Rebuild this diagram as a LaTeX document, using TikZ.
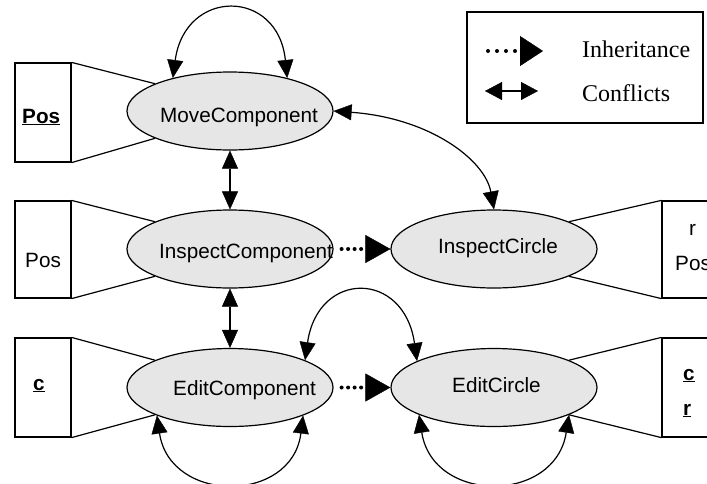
\documentclass[tikz,border=0pt]{standalone}
\usepackage{fontspec}
\setmainfont{Liberation Sans}
\newfontfamily\legfont{Liberation Serif}
\usetikzlibrary{arrows.meta,shapes.geometric}
\definecolor{ellfill}{RGB}{230,230,230}
\tikzset{
  comp/.style={ellipse, draw, fill=ellfill, line width=1.2pt, minimum width=206pt, minimum height=78pt, inner sep=0pt},
  attrbox/.style={rectangle, draw, line width=1.2pt, inner sep=0pt},
  lab/.style={anchor=base west, inner sep=0pt, font=\fontsize{20.7}{24}\selectfont},
  legtext/.style={anchor=base west, inner sep=0pt, font=\legfont\fontsize{24}{28}\selectfont},
  tri/.tip={Triangle[length=18pt,width=16pt,line width=0.4pt]},
  bigtri/.tip={Triangle[length=25pt,width=28pt,line width=0.4pt]},
  conn/.style={line width=1.2pt, tri-tri},
  inh/.style={line width=4pt, line cap=round, dash pattern=on 0pt off 6.5pt, shorten <=8pt, -bigtri},
  link/.style={line width=1.2pt},
}
\begin{document}
\begin{tikzpicture}[x=1pt,y=-1pt]
\useasboundingbox (0,0) rectangle (707,483);
\clip (0,0) rectangle (707,483);
\fill[white] (0,0) rectangle (707,483);

% attribute boxes
\node[attrbox, minimum width=56pt, minimum height=99pt] (b1) at (43,112.5) {};
\node[attrbox, minimum width=56pt, minimum height=97pt] (b2) at (43,249.5) {};
\node[attrbox, minimum width=56pt, minimum height=99pt] (b3) at (43,387.5) {};
\node[attrbox, minimum width=62pt, minimum height=97pt] (b4) at (693,249.5) {};
\node[attrbox, minimum width=62pt, minimum height=99pt] (b5) at (693,387.5) {};

% ellipses
\node[comp] (mc) at (230,111) {};
\node[comp] (ic) at (230,249) {};
\node[comp] (icc) at (494,249) {};
\node[comp] (ec) at (230,387.5) {};
\node[comp] (ecc) at (494,387.5) {};

% links box-ellipse
\draw[link] (b1.north east) -- (mc.160);
\draw[link] (b1.south east) -- (mc.200);
\draw[link] (b2.north east) -- (ic.160);
\draw[link] (b2.south east) -- (ic.200);
\draw[link] (b3.north east) -- (ec.160);
\draw[link] (b3.south east) -- (ec.200);
\draw[link] (b4.north west) -- (icc.20);
\draw[link] (b4.south west) -- (icc.340);
\draw[link] (b5.north west) -- (ecc.20);
\draw[link] (b5.south west) -- (ecc.340);

% ellipse labels
\node[lab] (mcT) at (160,122) {MoveComponent};
\node[lab] (icT) at (159,258) {InspectComponent};
\node[lab] (iccT) at (438,253) {InspectCircle};
\node[lab] (ecT) at (173,395) {EditComponent};
\node[lab] (eccT) at (452,392) {EditCircle};

% box labels
\node[lab] (t1) at (22,123) {\underline{\textbf{Pos}}};
\node[lab] (t2) at (25,267) {Pos};
\node[lab] (t3) at (33,390) {\underline{\textbf{c}}};
\node[lab] (t4a) at (689,235) {r};
\node[lab] (t4b) at (675,270) {Pos};
\node[lab] (t5a) at (683,380) {\underline{\textbf{c}}};
\node[lab] (t5b) at (683,415) {\underline{\textbf{r}}};

% conflicts
\draw[conn] (mc.150) .. controls (185,-12) and (278,-12) .. (mc.30);
\draw[conn] (mc.south) -- (ic.north);
\draw[conn] (ic.south) -- (ec.north);
\draw[conn] (mc.east) .. controls (430,118) and (485,160) .. (icc.north);
\draw[conn] (ec.20) .. controls (318,270) and (404,270) .. (ecc.161);
\draw[conn] (ec.201) .. controls (170,504) and (292,504) .. (ec.339);
\draw[conn] (ecc.200) .. controls (433,504) and (555,504) .. (ecc.340);

% inheritance
\draw[inh] (ic.east) -- (icc.west);
\draw[inh] (ec.east) -- (ecc.west);

% legend
\node[attrbox, minimum width=236pt, minimum height=111pt] (leg) at (585,67.5) {};
\coordinate (lia) at (488,51);
\coordinate (lib) at (543,51);
\coordinate (lca) at (485,91);
\coordinate (lcb) at (538,91);
\draw[line width=4pt, line cap=round, dash pattern=on 0pt off 9pt,
  -{Triangle[length=23pt,width=30pt,line width=0.4pt]}] (lia) -- (lib);
\draw[line width=1.2pt, {Triangle[length=17pt,width=18pt,line width=0.4pt]}-{Triangle[length=17pt,width=18pt,line width=0.4pt]}] (lca) -- (lcb);
\node[legtext] (lt1) at (582,57) {Inheritance};
\node[legtext] (lt2) at (582,101.5) {Conflicts};
\end{tikzpicture}
\end{document}
